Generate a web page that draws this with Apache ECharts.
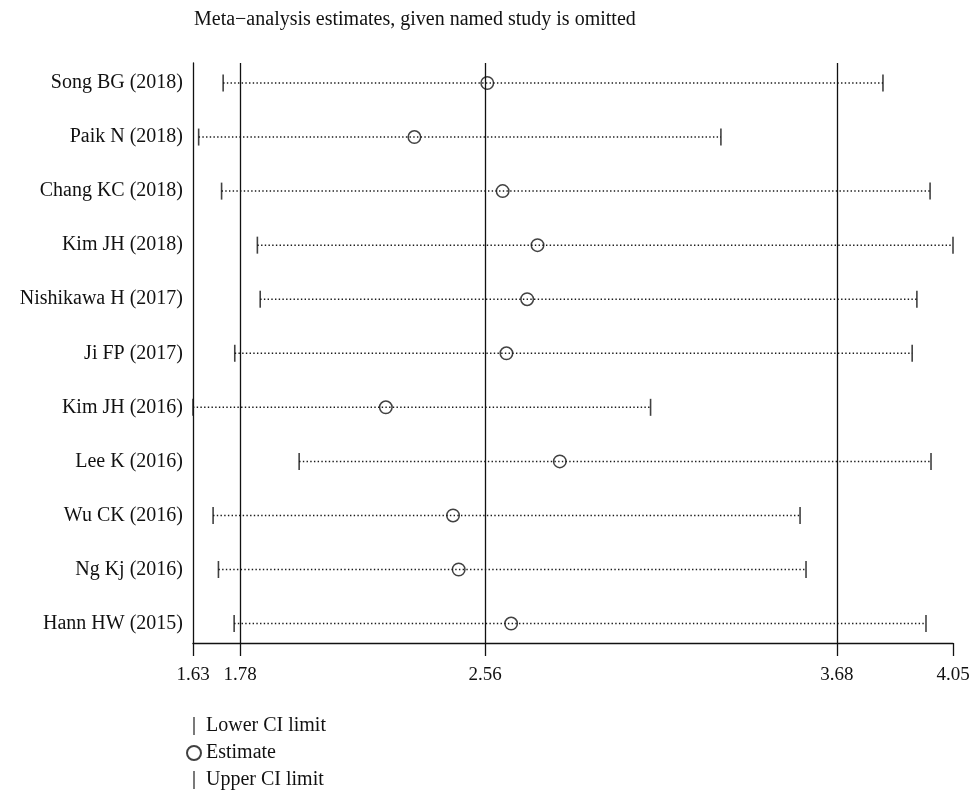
<!DOCTYPE html>
<html>
<head>
<meta charset="utf-8">
<script src="https://cdn.jsdelivr.net/npm/echarts@6/dist/echarts.min.js"></script>
<style>
  html, body { margin: 0; padding: 0; background: #fff; }
  #chart { width: 974px; height: 795px; }
</style>
</head>
<body>
<div id="chart"></div>
<script>
// studies, top to bottom
const studies = [
  'Song BG (2018)', 'Paik N (2018)', 'Chang KC (2018)', 'Kim JH (2018)',
  'Nishikawa H (2017)', 'Ji FP (2017)', 'Kim JH (2016)', 'Lee K (2016)',
  'Wu CK (2016)', 'Ng Kj (2016)', 'Hann HW (2015)'
]
const lowerCI   = [1.726, 1.648, 1.721, 1.835, 1.844, 1.763, 1.630, 1.968, 1.694, 1.711, 1.761]
const estimates = [2.567, 2.335, 2.616, 2.727, 2.694, 2.628, 2.244, 2.798, 2.458, 2.476, 2.643]
const upperCI   = [3.827, 3.311, 3.977, 4.050, 3.935, 3.920, 3.087, 3.980, 3.563, 3.582, 3.964]

const xTicks = [1.63, 1.78, 2.56, 3.68, 4.05]
const refLines = [1.78, 2.56, 3.68]

const SERIF = "'Liberation Serif', 'DejaVu Serif', serif"
const INK = '#111'

const rows = studies.map((_, i) => i)
// thin vertical bar inside a padded box so it keeps its shape in the legend
const barIcon = 'path://M0,0 M14,18 M6.3,0 L7.7,0 L7.7,18 L6.3,18 Z'

const chart = echarts.init(document.getElementById('chart'))

chart.setOption({
  animation: false,
  textStyle: { fontFamily: SERIF },
  title: {
    text: 'Meta\u2212analysis estimates, given named study is omitted',
    left: 189,
    top: 5,
    textStyle: { fontFamily: SERIF, fontSize: 20, fontWeight: 'normal', color: INK }
  },
  grid: { left: 193, right: 21, top: 63, bottom: 152, containLabel: false },
  legend: {
    orient: 'vertical',
    left: 186,
    top: 716,
    padding: 0,
    itemWidth: 14,
    itemHeight: 18,
    itemGap: 7,
    textStyle: { fontFamily: SERIF, fontSize: 20, color: INK },
    data: [
      { name: 'Lower CI limit', icon: barIcon },
      { name: 'Estimate', icon: 'circle' },
      { name: 'Upper CI limit', icon: barIcon }
    ]
  },
  xAxis: {
    type: 'value',
    min: 1.63,
    max: 4.05,
    axisLine: { show: true, onZero: false, lineStyle: { color: INK, width: 1.3 } },
    axisTick: { show: true, length: 13, customValues: xTicks, lineStyle: { color: INK, width: 1.3 } },
    axisLabel: {
      customValues: xTicks,
      formatter: v => v.toFixed(2),
      margin: 23,
      fontFamily: SERIF, fontSize: 19, color: INK
    },
    splitLine: { show: false }
  },
  yAxis: {
    type: 'value',
    inverse: true,
    min: -0.37,
    max: 10.36,
    axisLine: { show: true, onZero: false, lineStyle: { color: INK, width: 1.3 } },
    axisTick: { show: false },
    axisLabel: {
      customValues: rows,
      formatter: v => studies[Math.round(v)] || '',
      margin: 10,
      fontFamily: SERIF, fontSize: 20, color: INK
    },
    splitLine: { show: false }
  },
  series: [
    {
      name: 'CI',
      type: 'custom',
      silent: true,
      data: rows.map(i => [i, lowerCI[i], upperCI[i]]),
      encode: { y: 0, x: [1, 2] },
      renderItem: (params, api) => {
        const a = api.coord([api.value(1), api.value(0)])
        const b = api.coord([api.value(2), api.value(0)])
        return {
          type: 'line',
          shape: { x1: a[0], y1: a[1], x2: b[0], y2: b[1] },
          style: { stroke: '#1a1a1a', lineWidth: 1.5, lineDash: [1.4, 2.3] }
        }
      }
    },
    {
      name: 'Lower CI limit',
      type: 'scatter',
      symbol: 'rect',
      symbolSize: [1.6, 17],
      itemStyle: { color: INK },
      data: rows.map(i => [lowerCI[i], i]),
      markLine: {
        silent: true,
        symbol: ['none', 'none'],
        label: { show: false },
        lineStyle: { color: INK, type: 'solid', width: 1.3 },
        data: refLines.map(v => ({ xAxis: v }))
      }
    },
    {
      name: 'Estimate',
      type: 'scatter',
      symbol: 'circle',
      symbolSize: 12.5,
      itemStyle: { color: 'rgba(255,255,255,0)', borderColor: INK, borderWidth: 1.5 },
      data: rows.map(i => [estimates[i], i]),
      z: 5
    },
    {
      name: 'Upper CI limit',
      type: 'scatter',
      symbol: 'rect',
      symbolSize: [1.6, 17],
      itemStyle: { color: INK },
      data: rows.map(i => [upperCI[i], i])
    }
  ]
})
</script>
</body>
</html>
